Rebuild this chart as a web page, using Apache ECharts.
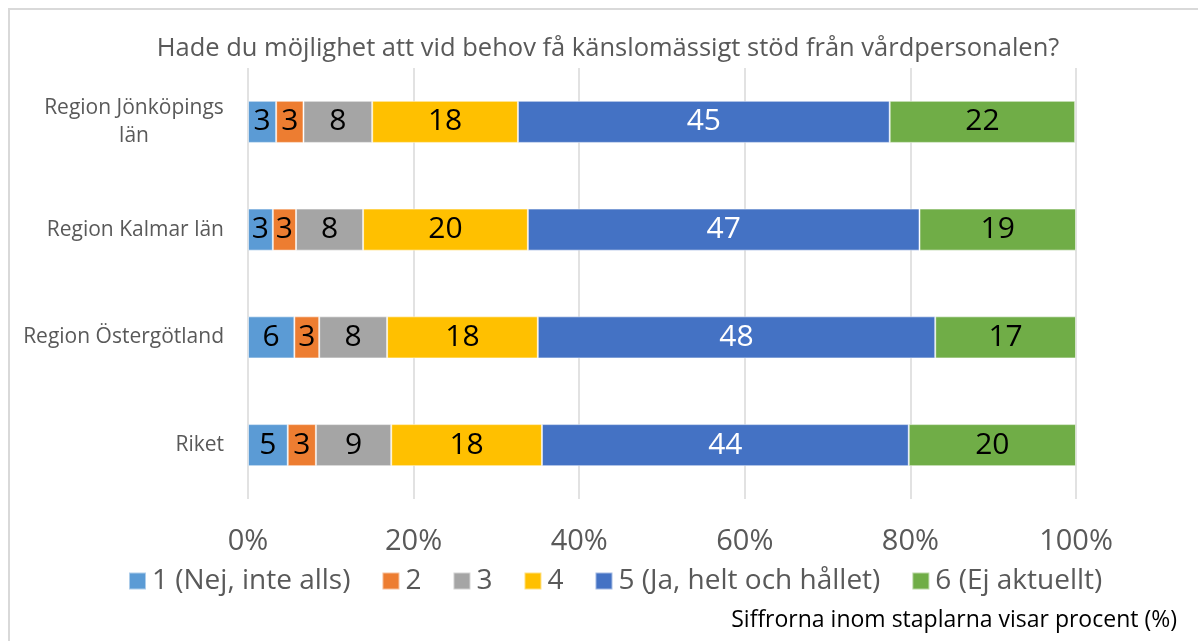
<!DOCTYPE html>
<html>
<head>
<meta charset="utf-8">
<script src="https://cdn.jsdelivr.net/npm/echarts@6/dist/echarts.min.js"></script>
<style>
  html, body { margin: 0; padding: 0; background: #fff; }
  #chart { width: 1198px; height: 641px; }
</style>
</head>
<body>
<div id="chart"></div>
<script>
// regioner (uppifrån och ned)
var regions = ['Region Jönköpings\nlän', 'Region Kalmar län', 'Region Östergötland', 'Riket'];
// svarsalternativ
var answers = ['1 (Nej, inte alls)', '2', '3', '4', '5 (Ja, helt och hållet)', '6 (Ej aktuellt)'];
// andel i procent per svarsalternativ (Jönköping, Kalmar, Östergötland, Riket)
var ans1 = [3.4, 3.0, 5.6, 4.8];
var ans2 = [3.3, 2.8, 3.0, 3.4];
var ans3 = [8.3, 8.1, 8.2, 9.1];
var ans4 = [17.6, 19.9, 18.2, 18.2];
var ans5 = [44.9, 47.3, 48.0, 44.3];
var ans6 = [22.4, 18.9, 17.0, 20.2];
var xTicks = [0, 20, 40, 60, 80, 100];

var colors = ['#5B9BD5', '#ED7D31', '#A5A5A5', '#FFC000', '#4472C4', '#70AD47'];
var labelColors = ['#000', '#000', '#000', '#000', '#fff', '#000'];
var seriesData = [ans1, ans2, ans3, ans4, ans5, ans6];
var FONT = '"Open Sans", "Noto Sans", sans-serif';

var myChart = echarts.init(document.getElementById('chart'));

var series = answers.map(function (name, i) {
  return {
    name: name,
    type: 'bar',
    stack: 'total',
    barWidth: '39%',
    data: seriesData[i],
    itemStyle: { color: colors[i], borderColor: 'rgba(255,255,255,0.5)', borderWidth: 1 },
    label: {
      show: true,
      position: 'inside',
      color: labelColors[i],
      fontFamily: FONT,
      fontSize: 30,
      formatter: function (p) { return Math.round(p.value); }
    },
    emphasis: { disabled: true }
  };
});

var option = {
  animation: false,
  backgroundColor: '#fff',
  textStyle: { fontFamily: FONT },
  title: {
    text: 'Hade du möjlighet att vid behov få känslomässigt stöd från vårdpersonalen?',
    left: 603,
    top: 31,
    textAlign: 'center',
    textStyle: { color: '#595959', fontSize: 25.5, fontWeight: 'normal', fontFamily: FONT }
  },
  legend: {
    data: answers,
    top: 562,
    left: 123,
    itemWidth: 17,
    itemHeight: 17,
    itemGap: 31,
    icon: 'rect',
    textStyle: { color: '#595959', fontSize: 28, fontFamily: FONT, padding: [0, 0, 0, 1] }
  },
  grid: {
    left: 248,
    right: 122,
    top: 68,
    bottom: 142,
    containLabel: false
  },
  xAxis: {
    type: 'value',
    min: xTicks[0],
    max: xTicks[xTicks.length - 1],
    interval: 20,
    axisLine: { show: false },
    axisTick: { show: false },
    splitLine: { show: true, lineStyle: { color: '#d9d9d9', width: 1.5 } },
    axisLabel: {
      color: '#595959',
      fontSize: 29,
      fontFamily: FONT,
      margin: 28,
      formatter: '{value}%'
    }
  },
  yAxis: {
    type: 'category',
    data: regions,
    inverse: true,
    axisLine: { show: false },
    axisTick: { show: false },
    axisLabel: {
      color: '#595959',
      fontSize: 21,
      fontFamily: FONT,
      margin: 24,
      align: 'right',
      formatter: function (v) {
        // första etiketten bryts på två rader, centrerad
        if (v.indexOf('\n') > -1) {
          return v.split('\n').map(function (s) { return '{c|' + s + '}'; }).join('\n');
        }
        return v;
      },
      rich: {
        c: { width: 180, align: 'center', fontSize: 21, lineHeight: 28, color: '#595959', fontFamily: FONT }
      }
    }
  },
  graphic: [
    {
      type: 'rect',
      shape: { x: 9, y: 9, width: 1400, height: 800 },
      style: { fill: null, stroke: '#d9d9d9', lineWidth: 2 },
      silent: true
    },
    {
      type: 'text',
      right: 21,
      top: 609,
      style: {
        text: 'Siffrorna inom staplarna visar procent (%)',
        fill: '#000',
        fontSize: 23,
        fontFamily: FONT
      }
    }
  ],
  series: series
};

myChart.setOption(option);
</script>
</body>
</html>
